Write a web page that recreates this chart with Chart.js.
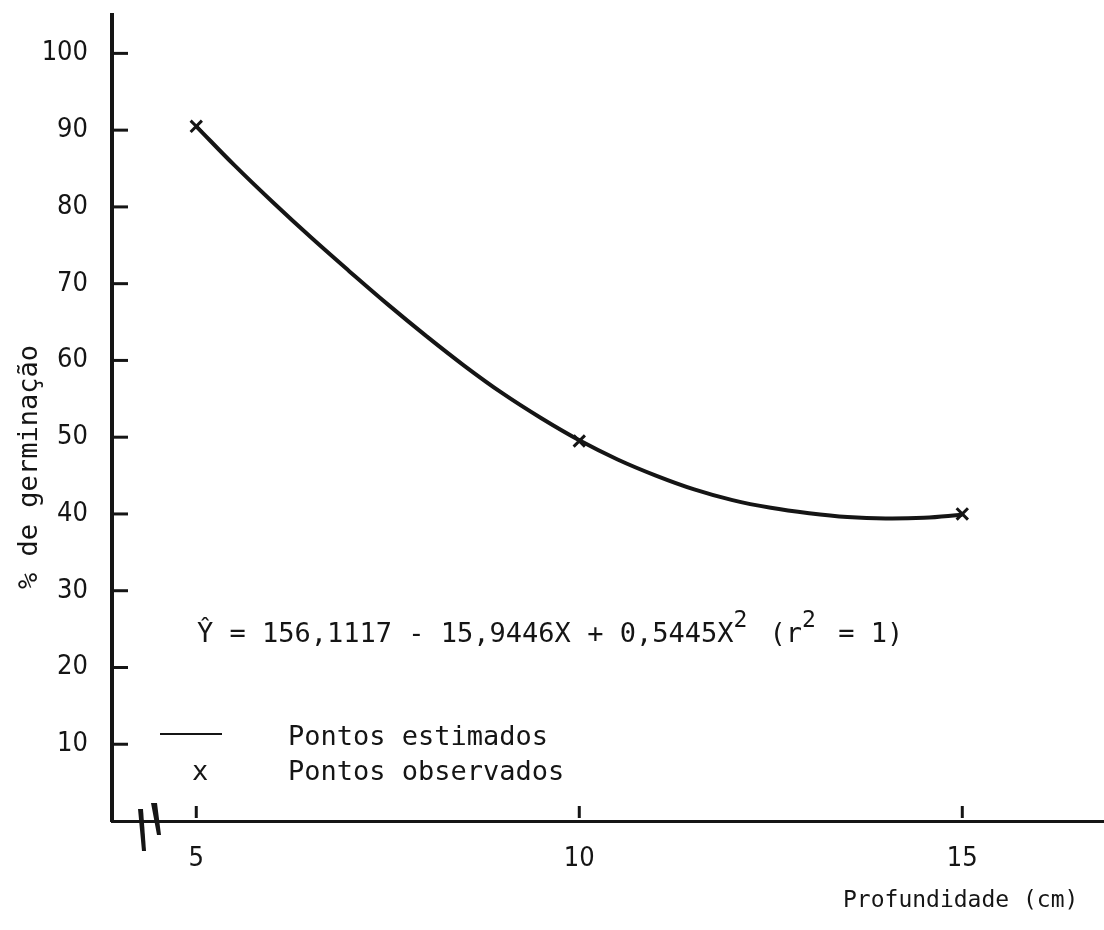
<!DOCTYPE html>
<html>
<head>
<meta charset="utf-8">
<script src="https://cdn.jsdelivr.net/npm/chart.js@4.4.0/dist/chart.umd.min.js"></script>
<style>
    html, body { margin: 0; padding: 0; background: #fff; overflow: hidden; }
    #wrap { width: 1104px; height: 930px; position: relative; }
    #grafico { display: block; }
</style>
</head>
<body>
<div id="wrap"><canvas id="grafico"></canvas></div>
<script>
    // profundidade (cm) e % de germinação
    var profEstimada = [5, 5.5, 6, 6.5, 7, 7.5, 8, 8.5, 9, 9.5, 10, 10.5, 11, 11.5, 12, 12.5, 13, 13.5, 14, 14.5, 15];
    var germEstimada = [90.5, 85.4, 80.6, 76.0, 71.6, 67.3, 63.2, 59.3, 55.7, 52.5, 49.6, 47.1, 45.0, 43.2, 41.8, 40.8, 40.1, 39.6, 39.4, 39.5, 39.9];
    var profObservada = [5, 10, 15];
    var germObservada = [90.5, 49.5, 40];
    var ticksX = [5, 10, 15];
    var ticksY = [10, 20, 30, 40, 50, 60, 70, 80, 90, 100];

    var INK = '#151515';
    var MONO = '"DejaVu Sans Mono", monospace';
    var NARROW = '"Liberation Sans Narrow", "DejaVu Sans Condensed", sans-serif';

    function pares(xs, ys) {
        return xs.map(function (x, i) { return { x: x, y: ys[i] }; });
    }

    var decoracao = {
        id: 'decoracao',
        afterDraw: function (chart) {
            var ctx = chart.ctx;
            var area = chart.chartArea;
            var sx = chart.scales.x, sy = chart.scales.y;
            ctx.save();
            ctx.strokeStyle = INK;
            ctx.fillStyle = INK;

            // marcas internas dos eixos
            ctx.lineWidth = 3;
            ticksY.forEach(function (v) {
                var y = sy.getPixelForValue(v);
                ctx.beginPath();
                ctx.moveTo(area.left, y);
                ctx.lineTo(area.left + 16, y);
                ctx.stroke();
            });
            ticksX.forEach(function (v) {
                var x = sx.getPixelForValue(v);
                ctx.beginPath();
                ctx.moveTo(x, area.bottom - 15);
                ctx.lineTo(x, area.bottom - 3);
                ctx.stroke();
            });

            // quebra do eixo x
            ctx.beginPath();
            ctx.moveTo(138, area.bottom - 12); ctx.lineTo(143, area.bottom - 12);
            ctx.lineTo(146, area.bottom + 30); ctx.lineTo(142, area.bottom + 30);
            ctx.closePath(); ctx.fill();
            ctx.beginPath();
            ctx.moveTo(151, area.bottom - 18); ctx.lineTo(157, area.bottom - 18);
            ctx.lineTo(161, area.bottom + 14); ctx.lineTo(157, area.bottom + 14);
            ctx.closePath(); ctx.fill();

            // título do eixo y
            ctx.font = '27px ' + MONO;
            ctx.textAlign = 'center';
            ctx.textBaseline = 'middle';
            ctx.save();
            ctx.translate(30, 467);
            ctx.rotate(-Math.PI / 2);
            ctx.fillText('% de germinação', 0, 0);
            ctx.restore();

            // título do eixo x
            ctx.font = '23px ' + MONO;
            ctx.textAlign = 'left';
            ctx.textBaseline = 'alphabetic';
            ctx.fillText('Profundidade (cm)', 843, 907);

            // equação
            var partes = [
                ['Ŷ = 156,1117 - 15,9446X + 0,5445X', false],
                ['2', true],
                [' (r', false],
                ['2', true],
                [' = 1)', false]
            ];
            var x = 197;
            partes.forEach(function (p) {
                ctx.font = (p[1] ? '23px ' : '27px ') + MONO;
                ctx.fillText(p[0], x, p[1] ? 627 : 642);
                x += ctx.measureText(p[0]).width + (p[1] ? 6 : 0);
            });

            // legenda
            ctx.font = '27px ' + MONO;
            ctx.lineWidth = 2;
            ctx.beginPath();
            ctx.moveTo(160, 734);
            ctx.lineTo(222, 734);
            ctx.stroke();
            ctx.fillText('Pontos estimados', 288, 745);
            ctx.fillText('x', 192, 780);
            ctx.fillText('Pontos observados', 288, 780);
            ctx.restore();
        }
    };

    new Chart(document.getElementById('grafico'), {
        type: 'scatter',
        data: {
            datasets: [{
                label: 'Pontos estimados',
                data: pares(profEstimada, germEstimada),
                showLine: true,
                borderColor: INK,
                borderWidth: 4,
                pointRadius: 0,
                tension: 0.4
            }, {
                label: 'Pontos observados',
                data: pares(profObservada, germObservada),
                showLine: false,
                pointStyle: 'crossRot',
                pointRadius: 8,
                pointBorderWidth: 3,
                borderColor: INK
            }]
        },
        options: {
            responsive: true,
            maintainAspectRatio: false,
            animation: false,
            layout: { autoPadding: false, padding: { top: 15, right: 0, left: 0, bottom: 0 } },
            plugins: {
                legend: { display: false },
                tooltip: { enabled: false }
            },
            scales: {
                x: {
                    type: 'linear',
                    min: 3.9,
                    max: 16.85,
                    afterFit: function (s) {
                        s.height = 109;
                        s.paddingLeft = 0;
                        s.paddingRight = 0;
                    },
                    afterBuildTicks: function (s) {
                        s.ticks = ticksX.map(function (v) { return { value: v }; });
                    },
                    grid: { display: false },
                    border: { display: true, color: INK, width: 3 },
                    ticks: {
                        color: INK,
                        padding: 14,
                        font: { family: NARROW, size: 27 }
                    }
                },
                y: {
                    min: 0,
                    max: 105,
                    afterFit: function (s) {
                        s.width = 112;
                        s.paddingTop = 0;
                        s.paddingBottom = 0;
                    },
                    afterBuildTicks: function (s) {
                        s.ticks = ticksY.map(function (v) { return { value: v }; });
                    },
                    grid: { display: false },
                    border: { display: true, color: INK, width: 4 },
                    ticks: {
                        color: INK,
                        padding: 16,
                        font: { family: NARROW, size: 27 }
                    }
                }
            }
        },
        plugins: [decoracao]
    });
</script>
</body>
</html>
